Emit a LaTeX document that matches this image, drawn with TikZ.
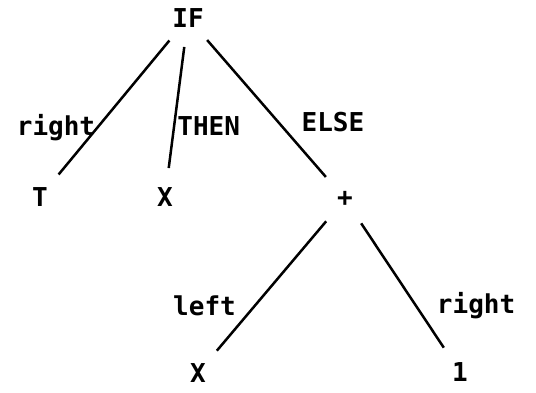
\documentclass[tikz,border=0pt]{standalone}
\usepackage{fontspec}
\usepackage{tikz}
\newfontfamily\treefont{DejaVu Sans Mono}

\begin{document}
\begin{tikzpicture}[
  x=1pt, y=-1pt,
  every node/.style={font=\treefont\bfseries\fontsize{26}{30}\selectfont},
  treenode/.style={circle, minimum size=58pt, inner sep=0pt},
  branch/.style={draw=black, line width=2.5pt},
  edgelabel/.style={inner sep=2pt},
]
\useasboundingbox (0,0) rectangle (536,393);

% ============ nodes ============
\node[treenode] (if)    at (188,18)  {IF};
\node[treenode] (t)     at (40,197)  {T};
\node[treenode] (xthen) at (165,197) {X};
\node[treenode] (plus)  at (345,199) {+};
\node[treenode] (xleft) at (198,373) {X};
\node[treenode] (one)   at (460,372) {1};

% ============ branches ============
\draw[branch] (if) -- (t)
  node[edgelabel, pos=0.65, anchor=east, xshift=1pt] {right};
\draw[branch] (if) -- (xthen)
  node[edgelabel, pos=0.65, anchor=west] {THEN};
\draw[branch] (if) -- (plus)
  node[edgelabel, pos=0.6, anchor=west, xshift=20pt] {ELSE};
\draw[branch] (plus) -- (xleft)
  node[edgelabel, pos=0.65, anchor=east, xshift=-16pt] {left};
\draw[branch] (plus) -- (one)
  node[edgelabel, pos=0.66, anchor=west, xshift=18pt] {right};

\end{tikzpicture}
\end{document}
